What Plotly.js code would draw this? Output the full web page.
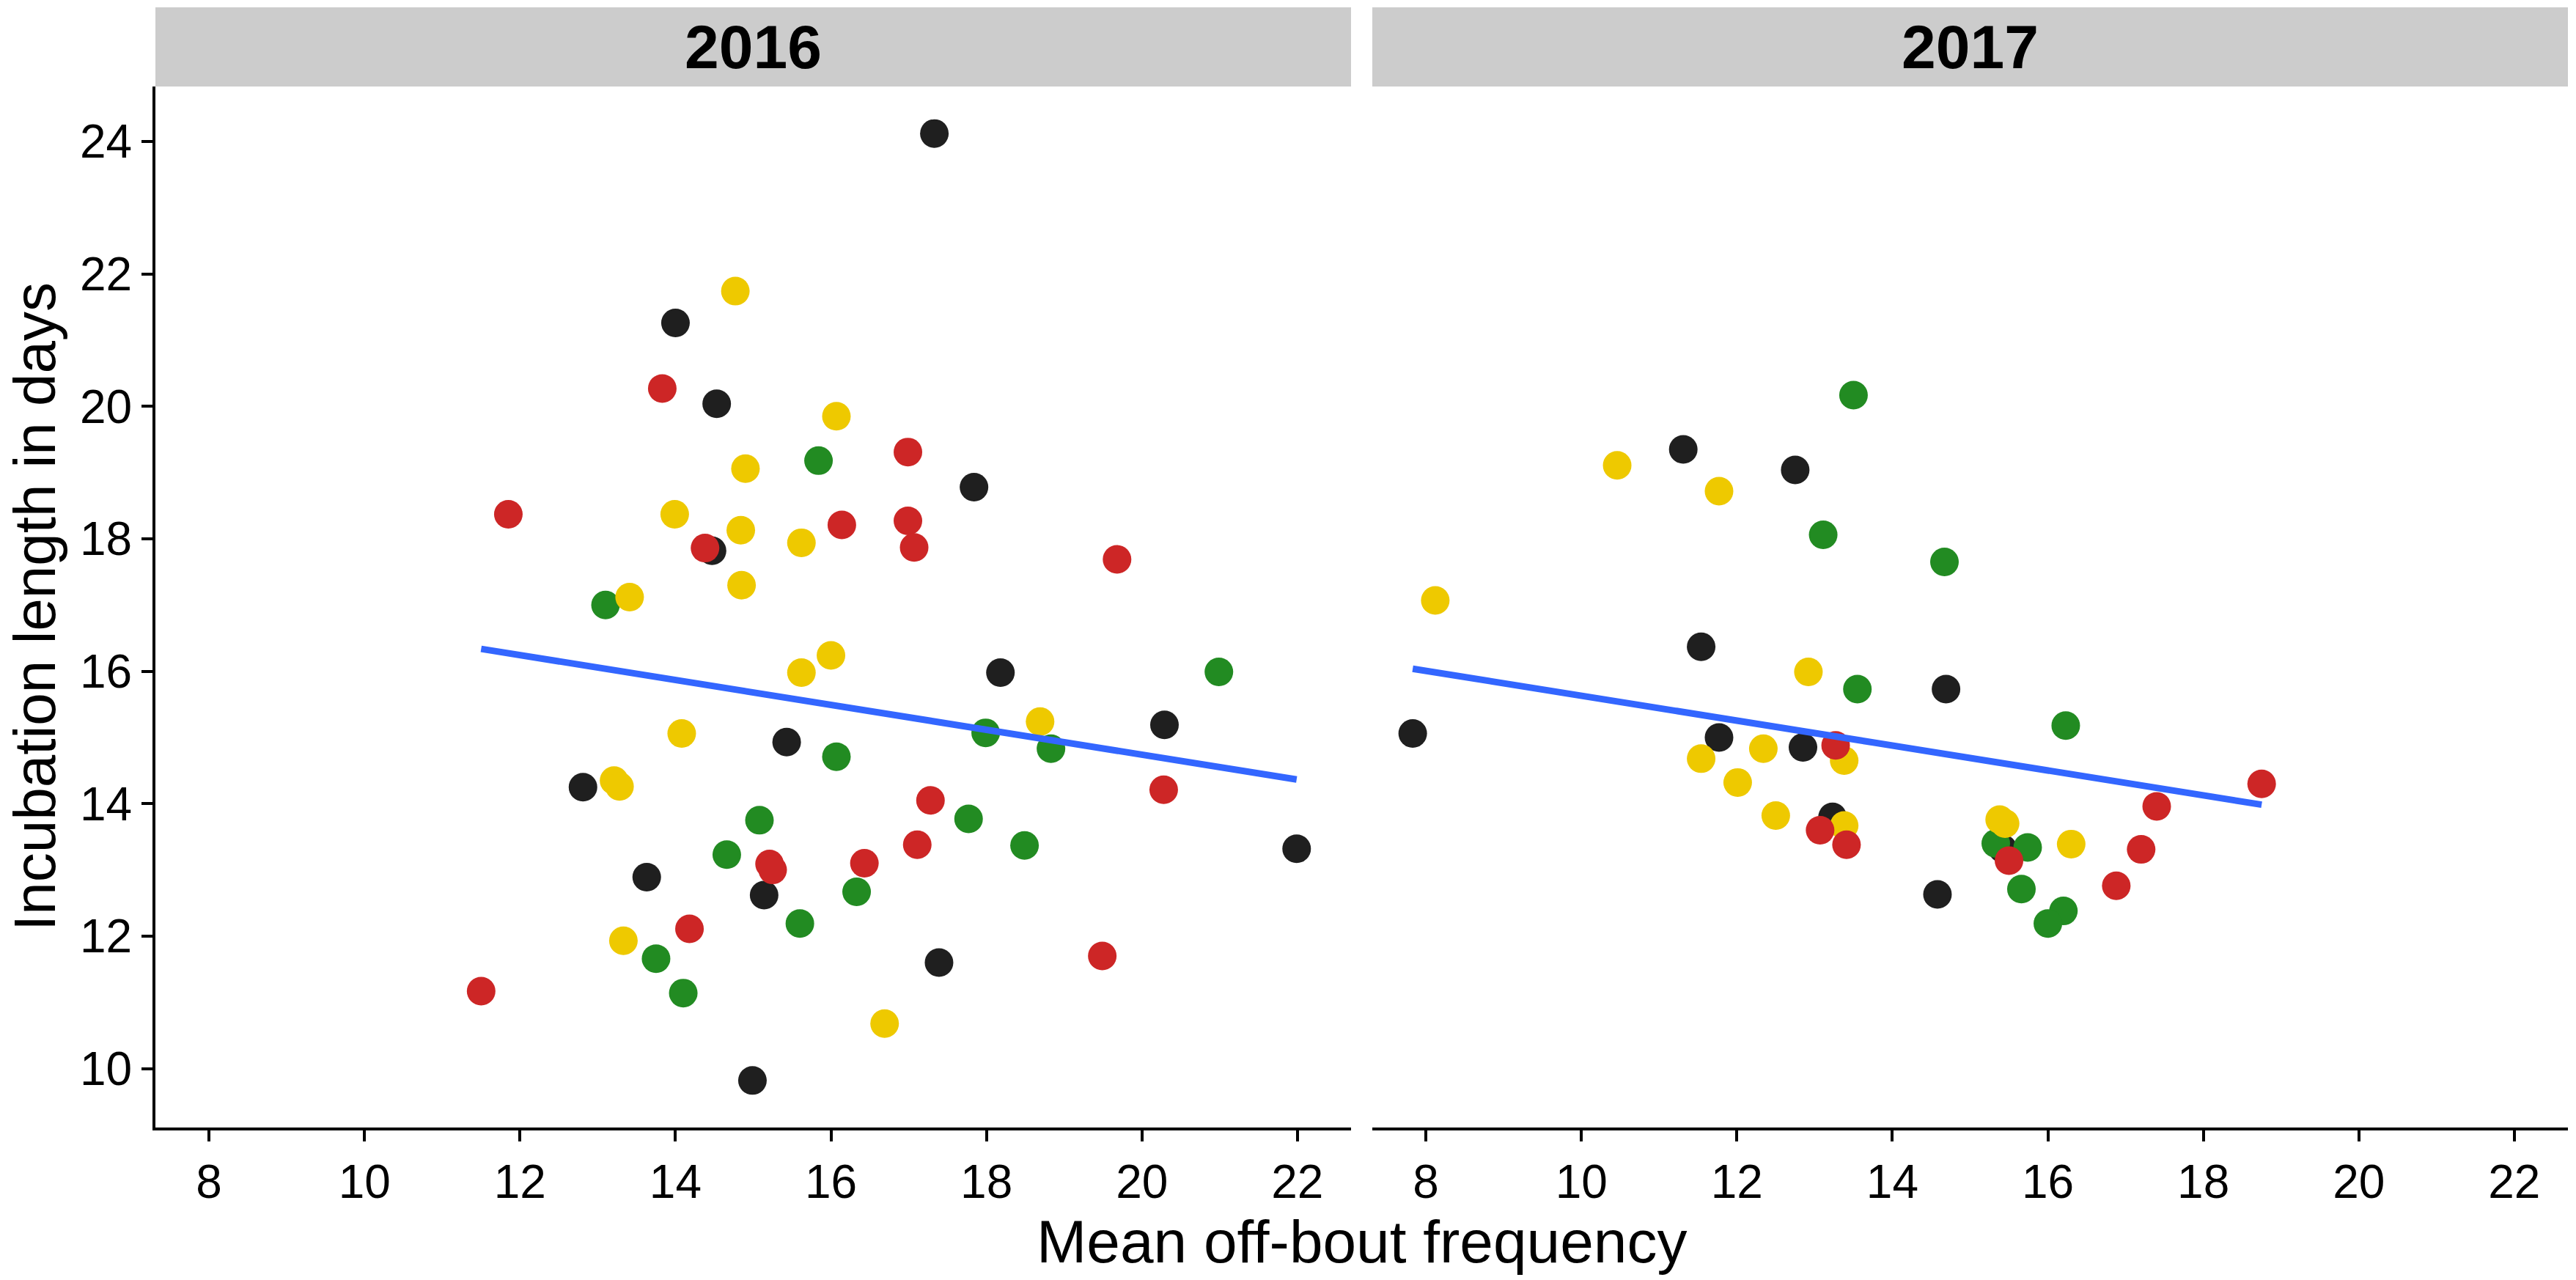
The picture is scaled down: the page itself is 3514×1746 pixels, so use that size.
<!DOCTYPE html>
<html>
<head>
<meta charset="utf-8">
<script src="https://cdn.plot.ly/plotly-3.0.1.min.js"></script>
<style>
  html, body { margin: 0; padding: 0; background: #ffffff; }
  #chart { width: 3514px; height: 1746px; }
</style>
</head>
<body>
<div id="chart"></div>
<script>
// ---------------- DATA ----------------
const years = ["2016", "2017"];
const groups = ["black", "green", "yellow", "red"];

// 2016 panel
const x2016Black  = [14.00, 14.53, 14.47, 17.33, 17.84, 12.81, 13.63, 15.14, 14.99, 18.18, 20.29, 15.43, 21.99, 17.39];
const y2016Black  = [21.26, 20.04, 17.82, 24.12, 18.78, 14.25, 12.89, 12.62,  9.82, 15.98, 15.19, 14.93, 13.32, 11.60];
const x2016Green  = [13.10, 15.84, 15.08, 14.66, 13.75, 14.10, 20.99, 17.99, 18.83, 16.07, 17.77, 18.49, 16.33, 15.60];
const y2016Green  = [17.00, 19.18, 13.75, 13.23, 11.66, 11.14, 15.99, 15.07, 14.83, 14.71, 13.77, 13.37, 12.67, 12.19];
const x2016Yellow = [14.77, 14.90, 13.99, 14.84, 14.85, 13.41, 16.07, 15.62, 14.08, 13.21, 13.28, 13.33, 15.62, 16.00, 18.69, 16.69];
const y2016Yellow = [21.74, 19.06, 18.37, 18.13, 17.30, 17.12, 19.85, 17.94, 15.06, 14.35, 14.26, 11.93, 15.98, 16.24, 15.24, 10.68];
const x2016Red    = [13.83, 11.85, 14.38, 16.99, 16.14, 16.99, 17.07, 19.68, 14.18, 11.50, 20.28, 17.28, 17.11, 15.21, 15.25, 16.43, 19.49];
const y2016Red    = [20.27, 18.37, 17.86, 19.31, 18.21, 18.27, 17.87, 17.69, 12.11, 11.17, 14.21, 14.05, 13.38, 13.09, 13.00, 13.10, 11.70];

// 2017 panel
const x2017Black  = [11.31, 12.75, 11.54, 14.69,  7.83, 11.77, 12.85, 13.23, 14.58, 15.42];
const y2017Black  = [19.35, 19.04, 16.37, 15.73, 15.06, 15.00, 14.85, 13.80, 12.63, 13.32];
const x2017Green  = [13.50, 13.11, 14.67, 13.55, 16.23, 15.33, 15.74, 15.66, 16.20, 16.00];
const y2017Green  = [20.17, 18.06, 17.65, 15.73, 15.18, 13.40, 13.34, 12.71, 12.38, 12.19];
const x2017Yellow = [10.46, 11.77,  8.12, 12.92, 11.54, 12.34, 13.38, 12.01, 12.50, 13.38, 15.38, 15.45, 16.30];
const y2017Yellow = [19.11, 18.72, 17.07, 15.99, 14.68, 14.83, 14.65, 14.32, 13.82, 13.67, 13.76, 13.70, 13.39];
const x2017Red    = [13.27, 13.07, 13.41, 18.75, 17.40, 15.50, 17.20, 16.88];
const y2017Red    = [14.88, 13.60, 13.38, 14.30, 13.96, 13.14, 13.31, 12.76];

// Fitted linear trend (common slope, year-specific intercept)
const fitSlope     = [-0.188, -0.188];
const fitIntercept = [18.50, 17.51];

// Axis ticks
const xTickVals = [8, 10, 12, 14, 16, 18, 20, 22];
const yTickVals = [10, 12, 14, 16, 18, 20, 22, 24];
const xTitle = "Mean off-bout frequency";
const yTitle = "Incubation length in days";

// ---------------- STYLE ----------------
const groupColors = { black: "#1F1F1F", green: "#228B22", yellow: "#EEC900", red: "#CD2626" };
const FONT = "Liberation Sans, Arial, Helvetica, sans-serif";
const W = 3514, H = 1746;
const M = { l: 212, r: 11, t: 118, b: 208 };
const plotW = W - M.l - M.r;          // 3291
const plotH = H - M.t - M.b;          // 1420
const panelW = 1631, gap = 29;
const dom1 = [0, panelW / plotW];
const dom2 = [(panelW + gap) / plotW, 1];
const stripH = 108;
const xRange = [7.31, 22.69];
const yRange = [9.11, 24.83];

const panelData = {
  "2016": { black: [x2016Black, y2016Black], green: [x2016Green, y2016Green], yellow: [x2016Yellow, y2016Yellow], red: [x2016Red, y2016Red] },
  "2017": { black: [x2017Black, y2017Black], green: [x2017Green, y2017Green], yellow: [x2017Yellow, y2017Yellow], red: [x2017Red, y2017Red] }
};

const traces = [];
years.forEach((yr, i) => {
  const xa = i === 0 ? "x" : "x2";
  const ya = i === 0 ? "y" : "y2";
  let allX = [];
  groups.forEach(g => {
    const [xs, ys] = panelData[yr][g];
    allX = allX.concat(xs);
    traces.push({
      type: "scatter", mode: "markers", x: xs, y: ys, xaxis: xa, yaxis: ya,
      name: g + " " + yr, showlegend: false, hoverinfo: "skip",
      marker: { color: groupColors[g], size: 39, line: { width: 0 } }
    });
  });
  const xmin = Math.min(...allX), xmax = Math.max(...allX);
  const lx = [xmin, xmax];
  const ly = lx.map(v => fitIntercept[i] + fitSlope[i] * v);
  traces.push({
    type: "scatter", mode: "lines", x: lx, y: ly, xaxis: xa, yaxis: ya,
    showlegend: false, hoverinfo: "skip",
    line: { color: "#3366FF", width: 9 }
  });
});

const tickFont = { family: FONT, size: 64, color: "#000000" };
const baseX = {
  range: xRange, tickvals: xTickVals, ticktext: xTickVals.map(String),
  ticks: "outside", ticklen: 15, tickwidth: 4, tickcolor: "#000000",
  showline: true, linewidth: 4, linecolor: "#000000", mirror: false,
  showgrid: false, zeroline: false, tickfont: tickFont, fixedrange: true
};

const stripTop = 1 + stripH / plotH;
const layout = {
  width: W, height: H,
  margin: M,
  paper_bgcolor: "#ffffff", plot_bgcolor: "#ffffff",
  showlegend: false,
  font: { family: FONT, color: "#000000" },
  xaxis: Object.assign({}, baseX, { domain: dom1, anchor: "y" }),
  xaxis2: Object.assign({}, baseX, { domain: dom2, anchor: "y2" }),
  yaxis: {
    range: yRange, tickvals: yTickVals, ticktext: yTickVals.map(String),
    ticks: "outside", ticklen: 15, tickwidth: 4, tickcolor: "#000000",
    showline: true, linewidth: 4, linecolor: "#000000",
    showgrid: false, zeroline: false, tickfont: tickFont, anchor: "x", domain: [0, 1]
  },
  yaxis2: {
    range: yRange, matches: "y", showticklabels: false, ticks: "",
    showline: false, showgrid: false, zeroline: false, anchor: "x2", domain: [0, 1]
  },
  shapes: [
    { type: "rect", xref: "paper", yref: "paper", x0: dom1[0], x1: dom1[1], y0: 1, y1: stripTop,
      fillcolor: "#CCCCCC", line: { width: 0 }, layer: "below" },
    { type: "rect", xref: "paper", yref: "paper", x0: dom2[0], x1: dom2[1], y0: 1, y1: stripTop,
      fillcolor: "#CCCCCC", line: { width: 0 }, layer: "below" }
  ],
  annotations: [
    { text: "<b>" + years[0] + "</b>", xref: "paper", yref: "paper", x: (dom1[0] + dom1[1]) / 2, y: (1 + stripTop) / 2,
      xanchor: "center", yanchor: "middle", showarrow: false, font: { family: FONT, size: 84, color: "#000000" } },
    { text: "<b>" + years[1] + "</b>", xref: "paper", yref: "paper", x: (dom2[0] + dom2[1]) / 2, y: (1 + stripTop) / 2,
      xanchor: "center", yanchor: "middle", showarrow: false, font: { family: FONT, size: 84, color: "#000000" } },
    { text: xTitle, xref: "paper", yref: "paper", x: 0.5, y: (1538 - 1693.6) / plotH,
      xanchor: "center", yanchor: "middle", showarrow: false, font: { family: FONT, size: 82, color: "#000000" } },
    { text: yTitle, xref: "paper", yref: "paper", x: (47 - M.l) / plotW, y: 0.5, textangle: -90,
      xanchor: "center", yanchor: "middle", showarrow: false, font: { family: FONT, size: 80, color: "#000000" } }
  ]
};

Plotly.newPlot("chart", traces, layout, { staticPlot: true, displayModeBar: false });
</script>
</body>
</html>
